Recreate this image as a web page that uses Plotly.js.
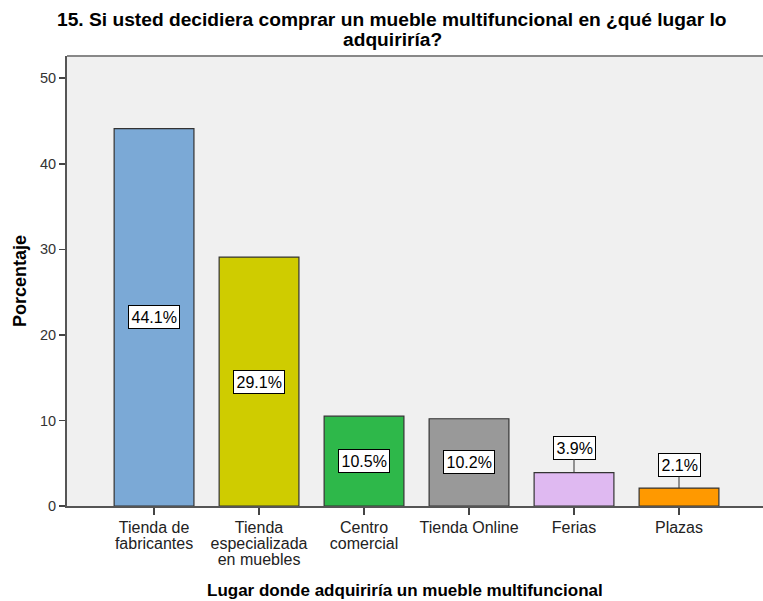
<!DOCTYPE html>
<html>
<head>
<meta charset="utf-8">
<script src="https://cdn.plot.ly/plotly-3.0.1.min.js"></script>
<style>html,body{margin:0;padding:0;background:#fff;}#chart{width:763px;height:601px;}</style>
</head>
<body>
<div id="chart"></div>
<script>
const categories = ["Tienda de<br>fabricantes", "Tienda<br>especializada<br>en muebles", "Centro<br>comercial", "Tienda Online", "Ferias", "Plazas"];
const values = [44.1, 29.1, 10.5, 10.2, 3.9, 2.1];
const labels = ["44.1%", "29.1%", "10.5%", "10.2%", "3.9%", "2.1%"];
const colors = ["#7BA9D6", "#CFCC00", "#2EB84A", "#999999", "#DFB9F1", "#FF9900"];
const outside = [false, false, false, false, true, true];
const outsideOffset = [0, 0, 0, 0, -25, -23];
const titleLines = ["15. Si usted decidiera comprar un mueble multifuncional en ¿qué lugar lo", "adquiriría?"];
const xTitle = "Lugar donde adquiriría un mueble multifuncional";
const yTitle = "Porcentaje";
const yTicks = [0, 10, 20, 30, 40, 50];

const font = "Liberation Sans, Arial, sans-serif";

const trace = {
  type: "bar",
  x: categories,
  y: values,
  width: 0.76,
  marker: {color: colors, line: {color: "#333333", width: 1.2}},
  hoverinfo: "none"
};

const annotations = categories.map((c, i) => {
  const a = {
    x: c, y: outside[i] ? values[i] : values[i] / 2,
    xref: "x", yref: "y",
    text: labels[i],
    font: {family: font, size: 16, color: "#000"},
    bgcolor: "#ffffff", bordercolor: "#000000", borderwidth: 1, borderpad: 2.5,
    showarrow: false
  };
  if (outside[i]) {
    a.showarrow = true; a.arrowhead = 0; a.arrowwidth = 1; a.arrowcolor = "#333";
    a.ax = 0; a.ay = outsideOffset[i]; a.standoff = 0;
  }
  return a;
});

// Title lines
annotations.push({text: "<b>" + titleLines[0] + "</b>", xref: "paper", yref: "paper", x: 0.467, y: 1.08,
  xanchor: "center", yanchor: "middle", showarrow: false, font: {family: font, size: 19.2, color: "#000"}});
annotations.push({text: "<b>" + titleLines[1] + "</b>", xref: "paper", yref: "paper", x: 0.467, y: 1.0356,
  xanchor: "center", yanchor: "middle", showarrow: false, font: {family: font, size: 19.2, color: "#000"}});
// Axis titles
annotations.push({text: "<b>" + xTitle + "</b>", xref: "paper", yref: "paper", x: 0.486, y: -0.187,
  xanchor: "center", yanchor: "middle", showarrow: false, font: {family: font, size: 17, color: "#000"}});
annotations.push({text: "<b>" + yTitle + "</b>", xref: "paper", yref: "paper", x: -0.0675, y: 0.5, textangle: -90,
  xanchor: "center", yanchor: "middle", showarrow: false, font: {family: font, size: 18, color: "#000"}});

const layout = {
  width: 763, height: 601,
  margin: {l: 67, r: 0, t: 56, b: 95},
  paper_bgcolor: "#ffffff",
  plot_bgcolor: "#F0F0F0",
  font: {family: font, size: 13, color: "#222"},
  xaxis: {
    range: [-0.829, 5.80],
    showgrid: false, zeroline: false,
    showline: true, linecolor: "#555555", linewidth: 2,
    ticks: "outside", ticklen: 7, tickwidth: 1.5, tickcolor: "#444",
    tickfont: {family: font, size: 16, color: "#222"},
    fixedrange: true
  },
  yaxis: {
    range: [0, 52.6],
    tickvals: yTicks,
    showgrid: false, zeroline: false,
    showline: true, linecolor: "#555555", linewidth: 2,
    ticks: "outside", ticklen: 6, tickwidth: 1.5, tickcolor: "#444",
    tickfont: {family: font, size: 14.5, color: "#333"},
    fixedrange: true
  },
  shapes: [{type: "line", xref: "paper", yref: "paper", x0: 0, x1: 1, y0: 1, y1: 1, line: {color: "#888888", width: 2}}],
  annotations: annotations,
  showlegend: false
};

Plotly.newPlot("chart", [trace], layout, {displayModeBar: false, staticPlot: true}).then(() => {
  // tighter line spacing for multi-line tick labels
  document.querySelectorAll("#chart .xtick text tspan.line").forEach(t => {
    const dy = t.getAttribute("dy");
    if (dy && dy.endsWith("em")) {
      const v = parseFloat(dy);
      t.setAttribute("dy", (v * 0.98 / 1.3) + "em");
    }
  });
  document.querySelectorAll("#chart .xtick text").forEach(t => {
    t.setAttribute("transform", (t.getAttribute("transform") || "") + " translate(0,-1)");
  });
});
</script>
</body>
</html>
